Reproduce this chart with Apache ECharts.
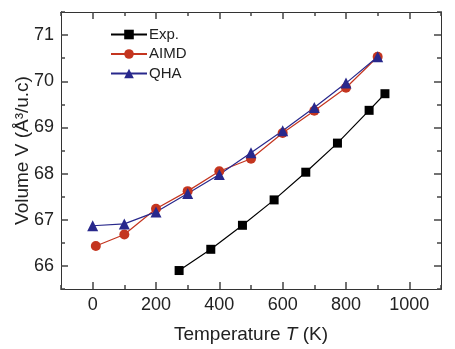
<!DOCTYPE html>
<html><head><meta charset="utf-8">
<script src="https://cdn.jsdelivr.net/npm/echarts@6/dist/echarts.min.js"></script>
<style>html,body{margin:0;padding:0;background:#fff}#c{width:455px;height:349px}</style>
</head><body><div id="c"></div>
<script>
const expT = [273, 373, 473, 573, 673, 773, 873, 923];
const expV = [65.9, 66.36, 66.88, 67.43, 68.03, 68.66, 69.37, 69.73];
const aimdT = [10, 100, 200, 300, 400, 500, 600, 700, 800, 900];
const aimdV = [66.43, 66.68, 67.24, 67.62, 68.05, 68.32, 68.88, 69.36, 69.86, 70.53];
const qhaT = [0, 100, 200, 300, 400, 500, 600, 700, 800, 900];
const qhaV = [66.87, 66.91, 67.17, 67.57, 67.98, 68.45, 68.93, 69.43, 69.96, 70.53];
const xTicks = [0, 200, 400, 600, 800, 1000];
const yTicks = [66, 67, 68, 69, 70, 71];

const FONT = 'Liberation Sans, Arial, sans-serif';
const AX = '#333';
const TK = '#444';
const pair = (xs, ys) => xs.map((x, i) => [x, ys[i]]);

function xAxisDef(pos, major, labels) {
  return {
    type: 'value', position: pos, min: -100, max: 1100, interval: 100,
    axisLine: { show: true, onZero: false, lineStyle: { color: AX } },
    axisTick: major ? { show: true, inside: true, length: 7, customValues: xTicks, lineStyle: { color: TK, width: 1.5 } }
                    : { show: true, inside: true, length: 4, lineStyle: { color: TK, width: 1.5 } },
    axisLabel: labels ? { show: true, customValues: xTicks, fontSize: 18, color: '#222', fontFamily: FONT, margin: 7,
                          formatter: v => String(v) } : { show: false },
    splitLine: { show: false }
  };
}
function yAxisDef(pos, major, labels) {
  return {
    type: 'value', position: pos, min: 65.5, max: 71.5, interval: 0.5,
    axisLine: { show: true, onZero: false, lineStyle: { color: AX } },
    axisTick: major ? { show: true, inside: true, length: 7, customValues: yTicks, lineStyle: { color: TK, width: 1.5 } }
                    : { show: true, inside: true, length: 4, lineStyle: { color: TK, width: 1.5 } },
    axisLabel: labels ? { show: true, customValues: yTicks, fontSize: 18, color: '#222', fontFamily: FONT, margin: 7,
                          formatter: v => String(v) } : { show: false },
    splitLine: { show: false }
  };
}

const richN = { fontSize: 19, color: '#222', fontFamily: FONT };
const richI = { fontSize: 19, color: '#222', fontFamily: FONT, fontStyle: 'italic' };

const xMain = xAxisDef('bottom', true, true);
xMain.name = '{n|Temperature }{i|T}{n| (K)}';
xMain.nameLocation = 'middle';
xMain.nameGap = 36;
xMain.nameTextStyle = { rich: { n: richN, i: richI } };

const yMain = yAxisDef('left', true, true);
yMain.name = 'Volume V (Å³/u.c)';
yMain.nameLocation = 'middle';
yMain.nameGap = 29;
yMain.nameMoveOverlap = false;
yMain.nameTextStyle = { fontSize: 19, color: '#222', fontFamily: FONT };

const chart = echarts.init(document.getElementById('c'));
chart.setOption({
  animation: false,
  backgroundColor: '#fff',
  grid: { left: 61, right: 14, top: 12, bottom: 60, outerBoundsMode: 'none' },
  legend: {
    left: 105, top: 22, orient: 'vertical', itemWidth: 36, itemHeight: 12, itemGap: 4.5,
    textStyle: { fontSize: 15, lineHeight: 14, color: '#222', fontFamily: FONT, padding: [0, 0, 0, -3] },
    data: ['Exp.', 'AIMD', 'QHA']
  },
  xAxis: [xMain, xAxisDef('bottom', false, false), xAxisDef('top', true, false), xAxisDef('top', false, false)],
  yAxis: [yMain, yAxisDef('left', false, false), yAxisDef('right', true, false), yAxisDef('right', false, false)],
  series: [
    { name: 'Exp.', type: 'line', data: pair(expT, expV), symbol: 'rect', symbolSize: 9,
      itemStyle: { color: '#000' }, lineStyle: { color: '#000', width: 1.2 } },
    { name: 'AIMD', type: 'line', data: pair(aimdT, aimdV), symbol: 'circle', symbolSize: 10,
      itemStyle: { color: '#c4351f' }, lineStyle: { color: '#c4351f', width: 1.2 } },
    { name: 'QHA', type: 'line', data: pair(qhaT, qhaV), symbol: 'triangle', symbolSize: 11,
      itemStyle: { color: '#28288c' }, lineStyle: { color: '#28288c', width: 1.2 } }
  ]
});
</script></body></html>
